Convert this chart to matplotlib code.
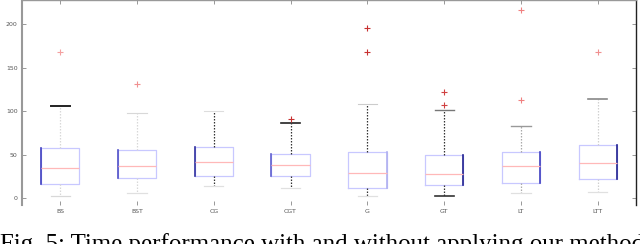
import matplotlib
matplotlib.use('Agg')
import matplotlib.pyplot as plt

# Methods compared (x tick labels)
methods = ['BS', 'BST', 'CG', 'CGT', 'G', 'GT', 'LT', 'LTT']

# Box statistics (time)
q1 = [16, 23.5, 25.6, 25.6, 12.3, 15.7, 17.6, 22.6]
median = [34.5, 37, 41.7, 38.7, 29.5, 27.6, 36.8, 40.6]
q3 = [57.5, 55, 58.5, 51.4, 53.2, 49.4, 53.2, 61.3]
whisker_lo = [2.3, 6, 14, 12, 2.6, 2.5, 6.1, 7]
whisker_hi = [105.7, 98, 100, 87, 108.8, 101, 83, 114]
outliers = [[168], [131], [], [91.6], [195.7, 168.5], [122, 107], [217, 112.6], [168]]

# Per-box styling (kept apart from the data)
dark_side = ['left', 'left', 'left', 'left', 'right', 'right', 'right', 'right']
dark_side_color = ['#4040c0', '#5050c8', '#3030a0', '#6060d0', '#b0b0f0', '#202090', '#4040c0', '#202090']
whisker_colors = ['#d8d8d8', '#d8d8d8', '#333333', '#333333', '#333333', '#333333', '#aaaaaa', '#d0d0d0']
low_cap_colors = ['#d8d8d8', '#e0e0e0', '#e0e0e0', '#e0e0e0', '#e0e0e0', '#333333', '#e0e0e0', '#e0e0e0']
high_cap_colors = ['#222222', '#d8d8d8', '#dddddd', '#222222', '#cccccc', '#777777', '#999999', '#888888']
high_cap_widths = [1.4, 0.8, 0.8, 1.2, 0.8, 1.0, 1.0, 1.2]
flier_colors = ['#f4a0a0', '#f09090', '#d04040', '#c83030', '#c83030', '#d04040', '#f08080', '#f09090']

stats = []
for i, name in enumerate(methods):
    stats.append({
        'label': name,
        'q1': q1[i], 'med': median[i], 'q3': q3[i],
        'whislo': whisker_lo[i], 'whishi': whisker_hi[i],
        'fliers': outliers[i],
    })

fig = plt.figure(figsize=(6.4, 2.44), dpi=100)
ax = fig.add_axes([0.034, 0.16, 0.96, 0.838])

positions = list(range(1, len(methods) + 1))
box_w = 0.5
bp = ax.bxp(stats, positions=positions, widths=box_w, showfliers=True,
            boxprops=dict(color='#c8c8ff', linewidth=0.9),
            medianprops=dict(color='#ffb8b8', linewidth=0.9),
            whiskerprops=dict(linestyle=(0, (1.2, 1.2)), linewidth=0.9),
            capprops=dict(linewidth=0.9),
            flierprops=dict(marker='+', markersize=4, markeredgewidth=0.8,
                            linestyle='none'))

for i in range(len(methods)):
    bp['whiskers'][2 * i].set_color(whisker_colors[i])
    bp['whiskers'][2 * i + 1].set_color(whisker_colors[i])
    lo_cap, hi_cap = bp['caps'][2 * i], bp['caps'][2 * i + 1]
    lo_cap.set_color(low_cap_colors[i])
    lo_cap.set_linewidth(1.2 if i == 5 else 0.9)
    hi_cap.set_color(high_cap_colors[i])
    hi_cap.set_linewidth(high_cap_widths[i])
    bp['fliers'][i].set_markeredgecolor(flier_colors[i])
    # darker vertical edge on one side of each box
    xe = positions[i] - box_w / 2 if dark_side[i] == 'left' else positions[i] + box_w / 2
    ax.plot([xe, xe], [q1[i], q3[i]], color=dark_side_color[i], linewidth=1.2)

ax.set_xlim(0.5, 8.5)
ax.set_ylim(-7.7, 227.4)
ax.set_yticks([0, 50, 100, 150, 200])
ax.set_xticks(positions)
ax.set_xticklabels(methods)

ax.tick_params(direction='in', labelsize=4.5, labelcolor='#555555', length=3,
               width=0.6, color='#888888', top=True, right=True, pad=3)
ax.spines['bottom'].set_visible(False)
ax.spines['left'].set_color('#999999')
ax.spines['left'].set_linewidth(1.5)
ax.spines['top'].set_color('#999999')
ax.spines['top'].set_linewidth(1.0)
ax.spines['right'].set_color('#222222')
ax.spines['right'].set_linewidth(1.0)

# Caption, cut off by the bottom edge as in the source image
fig.text(0.0, -0.03, 'Fig. 5: Time performance with and without applying our method',
         fontsize=17.9, family='Liberation Serif', va='baseline', ha='left')

fig.savefig('out.png', dpi=100)
